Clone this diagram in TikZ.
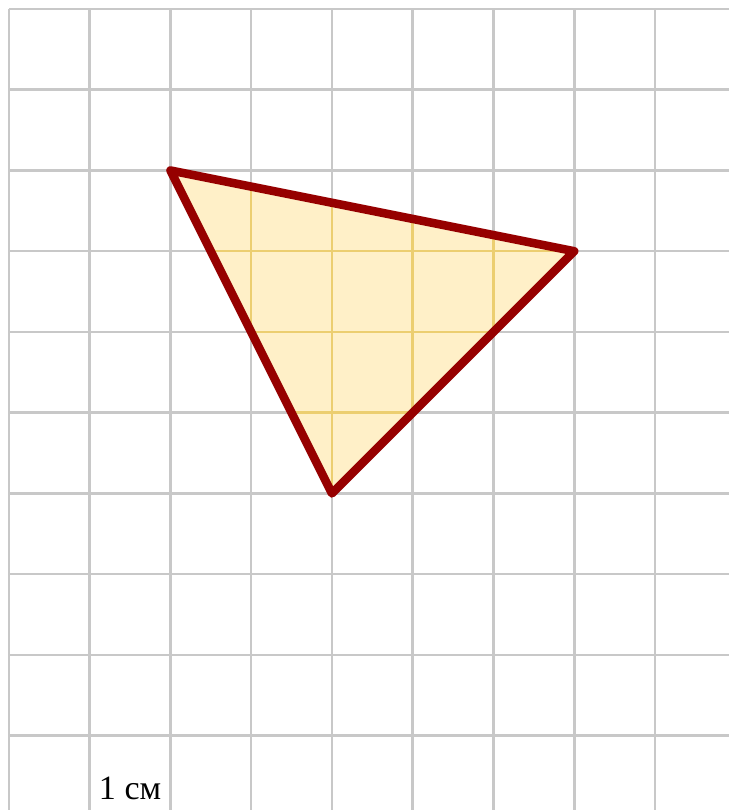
\documentclass[tikz,border=0pt]{standalone}
\usepackage{fontspec}
\setmainfont{Liberation Serif}
\definecolor{gridgray}{RGB}{200,200,200}
\definecolor{gridgold}{RGB}{236,206,112}
\definecolor{trifill}{RGB}{255,240,200}
\definecolor{tridraw}{RGB}{150,0,0}

\begin{document}
\begin{tikzpicture}[
  gridline/.style={draw=gridgray,line width=0.9pt},
  innergrid/.style={draw=gridgold,line width=0.9pt},
  tri/.style={draw=tridraw,line width=3pt,line join=round},
  unitlabel/.style={font=\fontsize{12}{14}\selectfont,inner sep=0pt}
]
\useasboundingbox (-0.111,-9.92) rectangle (8.916,0.111);
\draw[gridline,step=1] (0,-9.92) grid (8.916,0);
\coordinate (A) at (2,-2);
\coordinate (B) at (7,-3);
\coordinate (C) at (4,-6);
\fill[trifill] (A) -- (B) -- (C) -- cycle;
\begin{scope}
  \clip (A) -- (B) -- (C) -- cycle;
  \draw[innergrid,step=1] (0,-9) grid (8,0);
\end{scope}
\draw[tri] (A) -- (B) -- (C) -- cycle;
\node[unitlabel] (unit) at (1.5,-9.65) {1 см};
\end{tikzpicture}
\end{document}
